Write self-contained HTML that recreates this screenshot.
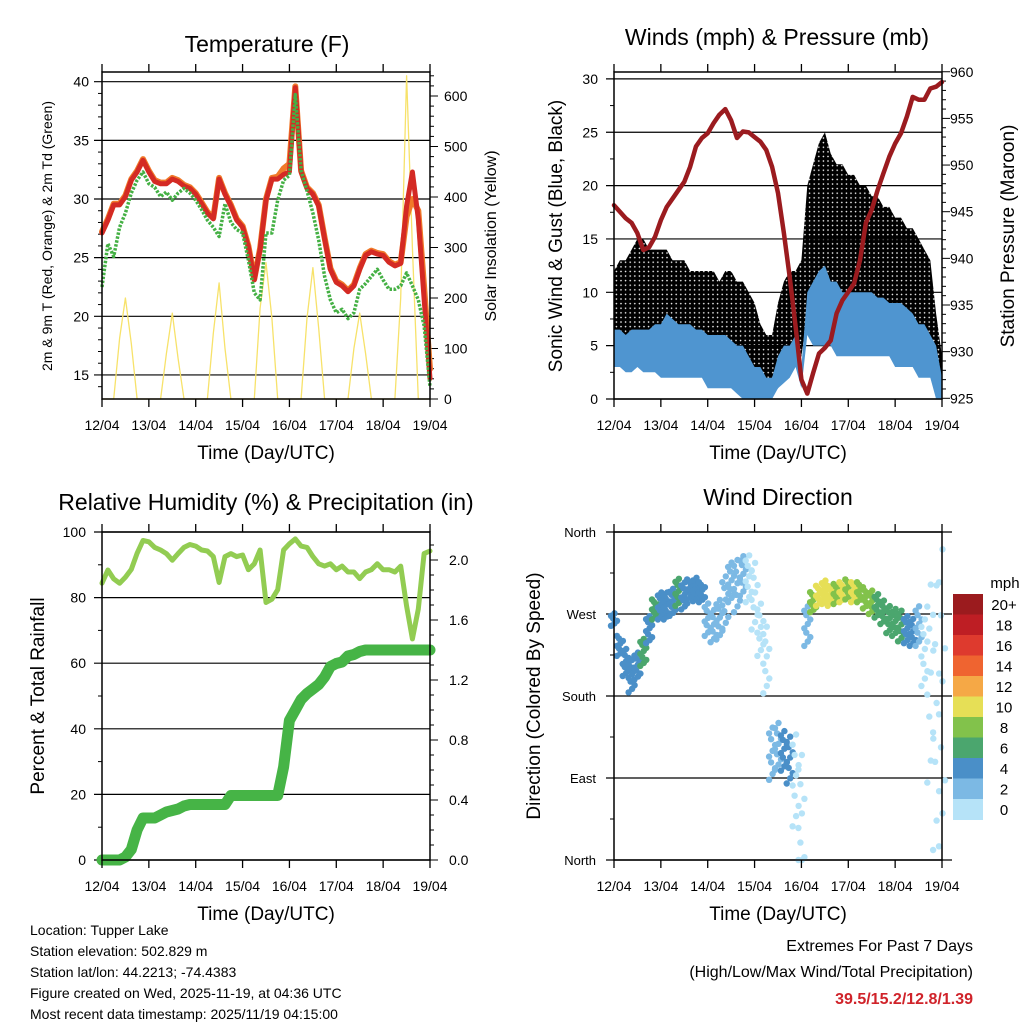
<!DOCTYPE html>
<html><head><meta charset="utf-8"><style>
html,body{margin:0;padding:0;background:#fff;}
svg{display:block;font-family:"Liberation Sans",sans-serif;}
</style></head><body>
<svg id="chart" width="1024" height="1024" viewBox="0 0 1024 1024" xmlns="http://www.w3.org/2000/svg">
<defs><pattern id="gdots" width="4.6" height="4.6" patternUnits="userSpaceOnUse"><circle cx="2.3" cy="2.3" r="2.6" fill="#000"/></pattern></defs>
</svg>
<script>
// ---- data (3-hourly, 57 points from 12/04 00 UTC to 19/04 00 UTC) ----
const dayLabels = ["12/04","13/04","14/04","15/04","16/04","17/04","18/04","19/04"];
const tempT2 = [27.1,28.2,29.5,29.5,30.2,31.6,32.3,33.3, 32.3,31.5,31.3,31.3,31.7,31.5,31.1,30.9, 30.4,29.6,28.8,28.3,31.7,30.4,29.4,28.2, 27.6,25.9,23.1,25.7,29.9,31.7,31.7,32.1, 32.3,39.5,32.3,30.9,30.4,29.4,26.6,24.0, 22.9,22.6,22.1,22.6,24.0,25.2,25.5,25.3, 25.2,24.6,24.3,24.5,29.4,32.3,28.3,21.5, 14.7];
const tempT9 = [27.2,28.3,29.6,29.6,30.3,31.7,32.4,33.4, 32.4,31.6,31.4,31.4,31.8,31.6,31.2,31.0, 30.5,29.7,28.9,28.4,31.8,30.5,29.5,28.3, 27.7,26.0,23.2,25.8,30.0,31.8,31.9,32.6, 33.0,39.6,32.4,31.0,30.5,29.5,26.7,24.1, 23.0,22.7,22.2,22.7,24.1,25.3,25.6,25.4, 25.3,24.7,24.4,24.6,28.5,30.0,29.0,22.5, 15.5];
const dewTd = [22.5,26.2,25.1,27.6,28.8,30.5,31.6,32.3, 31.3,31.0,30.2,30.6,29.9,30.5,30.9,30.5, 29.9,29.1,28.2,27.6,26.8,29.6,28.0,27.4, 27.1,24.8,22.0,21.4,27.1,27.1,29.9,31.6, 32.0,38.9,32.4,30.7,28.8,26.5,23.4,21.4, 20.3,20.6,19.8,20.3,22.3,22.8,23.4,24.0, 23.1,22.3,22.3,22.6,23.7,22.6,21.4,19.2, 14.0];
const solar = [0,0,0,120,200,110,0,0, 0,0,0,90,170,80,0,0, 0,0,0,130,230,100,0,0, 0,0,0,180,270,160,0,0, 0,0,0,160,260,140,0,0, 0,0,0,100,170,90,0,0, 0,0,0,200,640,300,0,0, 0];
const pressure = [945.7,945.0,944.3,943.8,942.7,940.9,941.2,942.3, 944.1,945.5,946.4,947.3,948.2,949.8,952.0,952.9, 953.4,954.5,955.4,956.0,954.8,952.9,953.6,953.5, 953.0,952.5,951.6,949.8,947.0,942.7,938.0,932.7, 927.0,925.5,927.7,929.8,930.4,931.2,934.1,935.5, 936.4,937.3,939.8,943.8,945.2,947.3,949.1,950.9, 952.3,953.4,955.2,957.3,957.0,957.0,958.2,958.4, 958.9];
const gustLo = [6,6,6,6,6,6,5,5, 5,5,4,4,4,4,3,3, 3,3,3,3,3,2,2,2, 1,0.5,0,0.5,1,2,3,3, 4,8,9,9,10,10,9,9, 8,8,8,8,8,8,8,8, 7,7,6,6,5,5,4,1, 0];
const gustHi = [12,13,13,14,15,15,14,14, 14,14,13,13,13,12,12,12, 12,12,11,12,12,11,11,10, 9,7,6,6,9,11,12,12, 13,20,22,24,25,23,22,22, 21,21,20,20,19,19,18,18, 17,17,16,16,15,14,13,8, 4];
const windLo = [3,3,2.5,2.5,3,2.5,2.5,2.5, 2,2,2,2,2,2,2,2, 1,1,1,1,1,0.5,0,0, 0,0,0,0,1,1.5,2,3, 1,6,5,5,5,5,4,4, 4,4,4,4,4,4,4,4, 3,3,3,3,2,2,2,0, 0];
const windHi = [6.5,6.5,6,6.5,6.5,6.5,6.5,7, 7,8,7.5,7,7,7,6.5,6.5, 6,6,6,6,5.5,5,5,4, 3,3,2,2,4,5,5,6, 3,10,11,12,12.5,11,11,10, 10,10,10,10,10,9.5,9.5,9, 9,9,8.5,8,7,7,6,5, 2];
const rhPct = [84.4,88.4,85.7,84.4,86.2,88.6,93.5,97.4, 97.0,95.3,94.5,93.4,91.4,93.4,95.3,96.2, 95.7,94.5,94.2,92.5,84.6,92.5,93.4,92.5, 93.0,88.5,90.3,94.5,78.5,79.5,82.4,94.5, 96.4,97.9,95.7,95.3,92.5,90.3,89.6,90.3, 88.5,89.6,87.8,87.8,85.8,87.8,88.5,90.3, 88.5,88.5,87.8,89.6,77.4,67.4,76.5,93.4, 94.2];
const precipIn = [0,0,0,0,0.02,0.07,0.20,0.28, 0.28,0.28,0.30,0.32,0.33,0.34,0.36,0.37, 0.37,0.37,0.37,0.37,0.37,0.37,0.43,0.43, 0.43,0.43,0.43,0.43,0.43,0.43,0.43,0.62, 0.93,1.00,1.07,1.11,1.14,1.17,1.22,1.29, 1.31,1.32,1.36,1.37,1.39,1.40,1.40,1.40, 1.40,1.40,1.40,1.40,1.40,1.40,1.40,1.40, 1.40];
const dirCenter = [264,235,217,202,213,228,253,275, 279,279,283,294,290,297,297,294, 264,257,264,283,305,301,312,309, 290,253,220,117,125,120,110,88, 44,257,283,290,294,290,292,294, 297,294,294,287,283,279,272,264, 261,257,253,250,257,228,195,158, 180];
const dirSpread = [7,11,15,18,15,15,15,11, 15,15,15,15,15,11,13,11, 18,18,22,29,22,29,22,26, 37,29,37,29,26,22,26,51, 73,22,11,11,13,11,11,11, 11,11,11,11,13,13,13,15, 15,17,15,15,22,37,110,147, 165];
const dirSpeed = [5,4,5,4,5,6,5,6, 5,4,5,6,4,4,4,4, 3,2,3,2,3,3,2,1, 1,1,1,2,3,5,4,1, 0,2,9,10,11,10,9,10, 9,10,9,8,8,7,7,7, 6,6,5,4,2,1,0,0, 0];
const speedLabels = ["20+","18","16","14","12","10","8","6","4","2","0"];
const speedColors = ["#9b1b1e","#be1e24","#de3a2e","#ef6430","#f5a846","#e6df56","#82c24b","#4ba66e","#4a8fc8","#7cb9e4","#b6e3f8"];

const svg = document.getElementById('chart');
const NS = 'http://www.w3.org/2000/svg';
function mk(tag, attrs, parent){ const e=document.createElementNS(NS,tag); for(const k in attrs) e.setAttribute(k,attrs[k]); (parent||svg).appendChild(e); return e; }
function txt(x,y,s,size,anchor,name,rot,extra){
  const t=mk('text',{x:x,y:y,'font-size':size,'text-anchor':anchor||'middle',fill:'#000'});
  if(rot) t.setAttribute('transform','rotate('+rot+' '+x+' '+y+')');
  if(extra) for(const k in extra) t.setAttribute(k,extra[k]);
  t.textContent=s;
  
  
  return t;
}
function ln(x1,y1,x2,y2,c,w,name){
  const l=mk('line',{x1:x1,y1:y1,x2:x2,y2:y2,stroke:c,'stroke-width':w});
  
  
  return l;
}
function pathFrom(arr, xs, ys){ return arr.map((v,i)=>(i?'L':'M')+xs(i/8).toFixed(1)+' '+ys(v).toFixed(1)).join(' '); }
function poly(arr, xs, ys, c, w, name, extra){
  const p=mk('path',{d:pathFrom(arr,xs,ys),fill:'none',stroke:c,'stroke-width':w,'stroke-linejoin':'round','stroke-linecap':'round'});
  if(extra) for(const k in extra) p.setAttribute(k,extra[k]);
  
  
  return p;
}
function band(lo,hi,xs,ys,fill,name){
  let d='';
  hi.forEach((v,i)=>{d+=(i?'L':'M')+xs(i/8).toFixed(1)+' '+ys(v).toFixed(1)+' ';});
  for(let i=lo.length-1;i>=0;i--) d+='L'+xs(i/8).toFixed(1)+' '+ys(lo[i]).toFixed(1)+' ';
  const p=mk('path',{d:d+'Z',fill:fill,stroke:'none'});
  
  
  return p;
}
function frame(x0,x1,y0,y1,p){
  const r=mk('rect',{x:x0,y:y0,width:x1-x0,height:y1-y0,fill:'none',stroke:'#000','stroke-width':1.5});
  
  
  for(let d=0; d<=7; d++){
    const x=x0+(x1-x0)*d/7;
    ln(x,y1,x,y1+8,'#000',1.3,p+'-x-tick');
    ln(x,y0,x,y0-8,'#000',1.3,p+'-x-tick-top');
    txt(x,y1+31,dayLabels[d],14,'middle',p+'-x-tick-label');
  }
  txt((x0+x1)/2,y1+60,'Time (Day/UTC)',19,'middle',p+'-x-axis-title');
}

// ===== Panel 1: Temperature =====
(function(){
  const x0=102,x1=430,y0=72,y1=399;
  const xs=d=>x0+(x1-x0)*d/7;
  const ys=v=>81.7+(40-v)*11.73;
  const ys2=v=>399-v*0.505;
  txt(267,52,'Temperature (F)',23,'middle','temperature-title');
  [15,20,25,30,35,40].forEach(v=>{ ln(x0-8,ys(v),x1,ys(v),'#000',1.2,'temp-gridline'); txt(x0-13,ys(v)+5,String(v),14,'end','temp-y-tick-label'); });
  for(let v=14;v<=40;v++) if(v%5) ln(x0-4,ys(v),x0,ys(v),'#000',1,'temp-y-minor-tick');
  for(let v=0;v<=640;v+=20){ const big=v%100===0; ln(x1,ys2(v),x1+(big?8:4),ys2(v),'#000',1,'solar-y-tick'); if(big) txt(x1+14,ys2(v)+5,String(v),14,'start','solar-y-tick-label'); }
  poly(solar,xs,ys2,'#f7e26a',1.3,'solar-insolation-line');
  poly(tempT9,xs,ys,'#f07a2a',6,'temp-9m-line');
  poly(tempT2,xs,ys,'#d42a24',5,'temp-2m-line');
  poly(dewTd,xs,ys,'#44b044',3.5,'dewpoint-2m-line',{'stroke-dasharray':'2.5 1.5','stroke-linecap':'butt'});
  frame(x0,x1,y0,y1,'temp');
  txt(52,236,'2m & 9m T (Red, Orange) & 2m Td (Green)',14,'middle','temp-y-axis-title',-90);
  txt(496,236,'Solar Insolation (Yellow)',16,'middle','solar-y-axis-title',-90);
})();

// ===== Panel 2: Winds & Pressure =====
(function(){
  const x0=614,x1=942,y0=72,y1=399;
  const xs=d=>x0+(x1-x0)*d/7;
  const ys=v=>399-v*10.67;
  const ys2=v=>398.3-(v-925)*9.33;
  txt(777,45,'Winds (mph) & Pressure (mb)',23,'middle','winds-title');
  [0,5,10,15,20,25,30].forEach(v=>{ ln(x0-8,ys(v),x1,ys(v),'#000',1.2,'wind-gridline'); txt(x0-16,ys(v)+5,String(v),14,'end','wind-y-tick-label'); });
  for(let v=2.5;v<30;v+=5) ln(x0-4,ys(v),x0,ys(v),'#000',1,'wind-y-minor-tick');
  for(let v=925;v<=960;v++){ const big=v%5===0; ln(x1,ys2(v),x1+(big?8:4),ys2(v),'#000',1,'pressure-y-tick'); if(big) txt(x1+8,ys2(v)+5,String(v),14,'start','pressure-y-tick-label'); }
  band(gustLo,gustHi,xs,ys,'url(#gdots)','gust-scatter-band');
  band(windLo,windHi,xs,ys,'#4f95d0','sonic-wind-band');
  poly(pressure,xs,ys2,'#9b1b1f',4.5,'station-pressure-line');
  frame(x0,x1,y0,y1,'wind');
  txt(562,236,'Sonic Wind & Gust (Blue, Black)',19,'middle','wind-y-axis-title',-90);
  txt(1014,236,'Station Pressure (Maroon)',19,'middle','pressure-y-axis-title',-90);
})();

// ===== Panel 3: RH & Precip =====
(function(){
  const x0=102,x1=430,y0=532,y1=860;
  const xs=d=>x0+(x1-x0)*d/7;
  const ys=v=>860-v*3.28;
  const ys2=v=>860-v*150;
  txt(266,510,'Relative Humidity (%) & Precipitation (in)',23,'middle','rh-precip-title');
  [0,20,40,60,80,100].forEach(v=>{ ln(x0-8,ys(v),x1,ys(v),'#000',1.2,'rh-gridline'); txt(x0-16,ys(v)+5,String(v),14,'end','rh-y-tick-label'); });
  for(let v=10;v<100;v+=20) ln(x0-4,ys(v),x0,ys(v),'#000',1,'rh-y-minor-tick');
  for(let v=0;v<=2.15;v+=0.1){ const big=Math.round(v*10)%4===0; ln(x1,ys2(v),x1+(big?8:4),ys2(v),'#000',1,'precip-y-tick'); if(big) txt(x1+19,ys2(v)+5,v.toFixed(1),14,'start','precip-y-tick-label'); }
  poly(rhPct,xs,ys,'#92cc52',5,'relative-humidity-line');
  poly(precipIn,xs,ys2,'#46b446',11,'total-rainfall-line');
  frame(x0,x1,y0,y1,'rh');
  txt(44,696,'Percent & Total Rainfall',19,'middle','rh-y-axis-title',-90);
})();

// ===== Panel 4: Wind Direction =====
(function(){
  const x0=614,x1=942,y0=532,y1=860;
  const xs=d=>x0+(x1-x0)*d/7;
  const ys=v=>860-v*(328/360);
  txt(778,505,'Wind Direction',23,'middle','wind-direction-title');
  const names=['North','East','South','West','North'];
  [0,90,180,270,360].forEach((v,i)=>{ ln(x0-8,ys(v),x1+10,ys(v),'#000',1.2,'direction-gridline'); txt(x0-18,ys(v)+5,names[i],13,'end','direction-y-tick-label'); });
  for(let v=45;v<360;v+=90) ln(x0-4,ys(v),x0,ys(v),'#000',1,'direction-minor-tick');
  const g=mk('g',{});
  
  
  dirCenter.forEach((c,i)=>{
    const sp=dirSpeed[i];
    const ci=Math.max(0,Math.min(10,10-Math.floor(sp/2)));
    const col=speedColors[ci];
    const step=Math.max(2.5,dirSpread[i]/5);
    const x=xs(i/8);
    let k=0;
    for(let dv=-dirSpread[i]; dv<=dirSpread[i]; dv+=step*(360/328)){
      const dir=Math.max(0,Math.min(360,c+dv));
      const dx=[-3,0.5,3,-1][k%4]; k++;
      const dot=mk('circle',{cx:(x+dx).toFixed(1),cy:ys(dir).toFixed(1),r:3.2,fill:col},g);
      
      
    }
  });
  frame(x0,x1,y0,y1,'direction');
  txt(540,696,'Direction (Colored By Speed)',19,'middle','direction-y-axis-title',-90);
  txt(1005,588,'mph',15,'middle','colorbar-title');
  speedLabels.forEach((s,i)=>{
    const r=mk('rect',{x:953,y:(594+i*20.5).toFixed(1),width:30,height:21,fill:speedColors[i]});
    
    
    txt(1004,594+i*20.5+16,s,15,'middle','colorbar-label');
  });
})();

// ===== Text blocks =====
['Location: Tupper Lake','Station elevation: 502.829 m','Station lat/lon: 44.2213; -74.4383','Figure created on Wed, 2025-11-19, at 04:36 UTC','Most recent data timestamp: 2025/11/19 04:15:00'].forEach((s,i)=>{
  txt(30,935+i*21,s,14,'start','station-info-line');
});
txt(973,951,'Extremes For Past 7 Days',16,'end','extremes-heading');
txt(973,977,'(High/Low/Max Wind/Total Precipitation)',16,'end','extremes-subheading');
txt(973,1004,'39.5/15.2/12.8/1.39',16,'end','extremes-values',0,{'font-weight':'bold',fill:'#d0232a'});
</script>
</body></html>
